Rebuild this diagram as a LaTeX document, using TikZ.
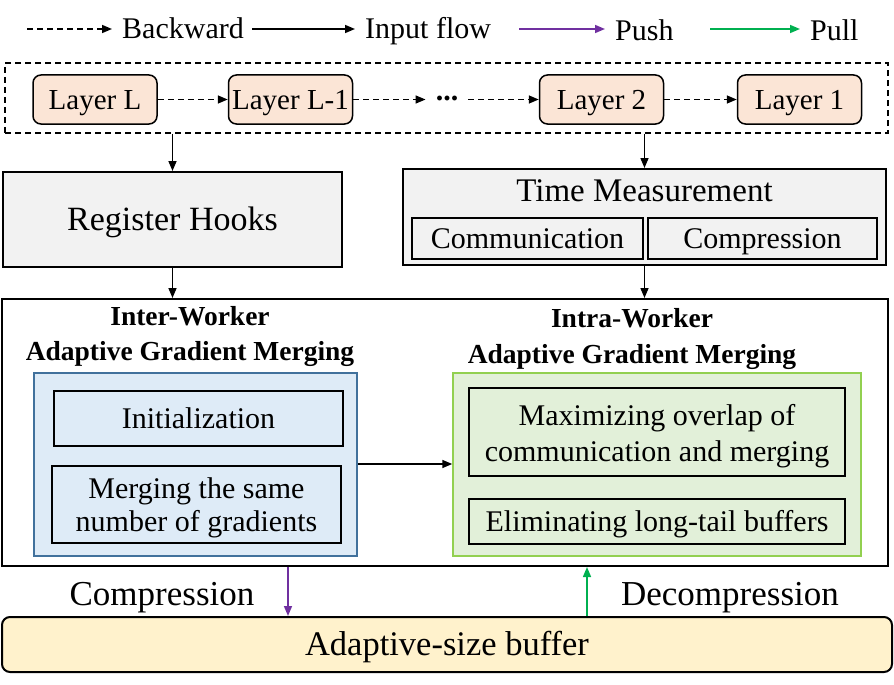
\documentclass[tikz,border=0pt]{standalone}
\usepackage{fontspec}
\setmainfont{Liberation Serif}
\usetikzlibrary{arrows.meta,positioning,calc}

\definecolor{layerfill}{HTML}{FBE5D6}
\definecolor{greyfill}{HTML}{F2F2F2}
\definecolor{interfill}{HTML}{DEEBF7}
\definecolor{interline}{HTML}{41719C}
\definecolor{intrafill}{HTML}{E2F0D9}
\definecolor{intraline}{HTML}{92D050}
\definecolor{bufffill}{HTML}{FFF2CC}
\definecolor{pushcol}{HTML}{7030A0}
\definecolor{pullcol}{HTML}{00B050}

\newcommand{\fsz}[1]{\fontsize{#1}{#1}\selectfont}

\tikzset{
  capmid/.style={text height=#1,text depth=0pt},
  layer/.style={draw,line width=1.5pt,fill=layerfill,rounded corners=8pt,
    minimum width=124pt,minimum height=49pt,font=\fsz{29},capmid=19.2pt},
  box/.style={draw,line width=2pt,inner sep=0pt},
  inbox/.style={box,font=\fsz{30},capmid=19.9pt},
  multi/.style={align=center,font=\fsz{30},inner sep=0pt},
  legtext/.style={anchor=west,inner xsep=10pt,inner ysep=0pt,font=\fsz{30},capmid=19.9pt},
  flow/.style={line width=1.5pt,-{Triangle[length=10pt,width=8pt]}},
  back/.style={flow,dash pattern=on 6pt off 4pt},
}

\begin{document}
\begin{tikzpicture}[x=1pt,y=-1pt]
\useasboundingbox (0,0) rectangle (894,685);

% legend
\coordinate (bw0) at (27,29);
\node[legtext] (bwtxt) at (112,29) {Backward};
\coordinate (in0) at (252,29);
\node[legtext] (intxt) at (355,29) {Input flow};
\coordinate (pu0) at (519,29);
\node[legtext] (putxt) at (605,31) {Push};
\coordinate (pl0) at (710,29);
\node[legtext] (pltxt) at (800,31) {Pull};
\draw[back] (bw0) -- (bwtxt.west |- bw0);
\draw[flow] (in0) -- (intxt.west |- in0);
\draw[flow,pushcol] (pu0) -- (putxt.west |- pu0);
\draw[flow,pullcol] (pl0) -- (pltxt.west |- pl0);

% backward layers
\node[draw,line width=1.5pt,dash pattern=on 6pt off 4pt,minimum width=883pt,minimum height=70pt] (bwd) at (446.5,98) {};
\node[layer] (lL) at (95,99.5) {Layer L};
\node[layer] (lL1) at (290.5,99.5) {Layer L-1};
\node[inner xsep=10pt,font=\bfseries\fsz{30}] (dots) at (447,98) {...};
\node[layer] (l2) at (601.5,99.5) {Layer 2};
\node[layer] (l1) at (799.5,99.5) {Layer 1};
\draw[back] (lL) -- (lL1);
\draw[back] (lL1) -- (lL1 -| dots.west);
\draw[back] (l2 -| dots.east) -- (l2);
\draw[back] (l2) -- (l1);

% hooks and time measurement
\node[box,fill=greyfill,minimum width=339pt,minimum height=95pt,font=\fsz{34},capmid=22.5pt] (hooks) at (172.5,219.5) {Register Hooks};
\node[box,fill=greyfill,minimum width=483pt,minimum height=96pt] (time) at (644.5,217) {};
\node[font=\fsz{33},capmid=21.8pt] (timetxt) at (644.5,191) {Time Measurement};
\node[inbox,fill=greyfill,minimum width=231pt,minimum height=41pt] (comm) at (527.5,238.5) {Communication};
\node[inbox,fill=greyfill,minimum width=229pt,minimum height=41pt] (comp) at (762.5,238.5) {Compression};
\draw[flow] (bwd.south -| hooks.north) -- (hooks.north);
\draw[flow] (bwd.south -| time.north) -- (time.north);

% gradient merging
\node[box,minimum width=886pt,minimum height=267pt] (merge) at (445,432.5) {};
\draw[flow] (hooks.south) -- (hooks.south |- merge.north);
\draw[flow] (time.south) -- (time.south |- merge.north);

\node[multi,font=\bfseries\fsz{27.5}] (intertxt) at (190,336) {Inter-Worker\\[7.5pt]Adaptive Gradient Merging};
\node[multi,font=\bfseries\fsz{27.5}] (intratxt) at (632,338.5) {Intra-Worker\\[8.5pt]Adaptive Gradient Merging};

\node[draw=interline,line width=1.5pt,fill=interfill,minimum width=323pt,minimum height=183pt] (inter) at (195.5,464.5) {};
\node[inbox,fill=interfill,minimum width=289pt,minimum height=55pt] (init) at (198.5,418.5) {Initialization};
\node[box,fill=interfill,minimum width=289pt,minimum height=77pt] (same) at (196.5,504.5) {};
\node[multi] (sametxt) at (196.5,508) {Merging the same\\[3.5pt]number of gradients};

\node[draw=intraline,line width=1.5pt,fill=intrafill,minimum width=408pt,minimum height=183pt] (intra) at (657,464.5) {};
\node[box,fill=intrafill,minimum width=376pt,minimum height=88pt] (overlap) at (657,432) {};
\node[multi] (overlaptxt) at (657,436) {Maximizing overlap of\\[6pt]communication and merging};
\node[inbox,fill=intrafill,minimum width=376pt,minimum height=45pt] (tail) at (657,521.5) {Eliminating long-tail buffers};
\draw[flow] (inter.east |- 0,464) -- (intra.west |- 0,464);

% buffer
\node[box,fill=bufffill,rounded corners=8pt,minimum width=890pt,minimum height=55pt,font=\fsz{34.5},capmid=22.8pt] (buffer) at (447,644.5) {Adaptive-size buffer};
\node[font=\fsz{35},capmid=23.2pt] (cmptxt) at (162,593.5) {Compression};
\node[font=\fsz{35},capmid=23.2pt] (dectxt) at (730,593.5) {Decompression};
\coordinate (pushx) at (288,594);
\coordinate (pullx) at (587,594);
\draw[flow,pushcol] (pushx |- merge.south) -- (pushx |- buffer.north);
\draw[flow,pullcol] (pullx |- buffer.north) -- (pullx |- merge.south);

\end{tikzpicture}
\end{document}
